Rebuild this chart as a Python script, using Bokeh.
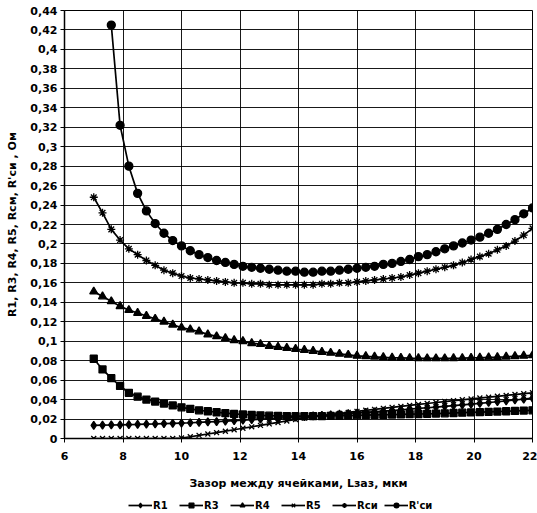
from bokeh.plotting import figure
from bokeh.models import Range1d, FixedTicker, Legend, LegendItem
from bokeh.layouts import column
from bokeh.embed import file_html
from bokeh.resources import INLINE

# ---- data ----
x_vals = [7.0, 7.3, 7.6, 7.9, 8.2, 8.5, 8.8, 9.1, 9.4, 9.7,
          10.0, 10.3, 10.6, 10.9, 11.2, 11.5, 11.8, 12.1, 12.4, 12.7,
          13.0, 13.3, 13.6, 13.9, 14.2, 14.5, 14.8, 15.1, 15.4, 15.7,
          16.0, 16.3, 16.6, 16.9, 17.2, 17.5, 17.8, 18.1, 18.4, 18.7,
          19.0, 19.3, 19.6, 19.9, 20.2, 20.5, 20.8, 21.1, 21.4, 21.7, 22.0]

r1 = [0.0135, 0.0137, 0.0139, 0.0141, 0.0143, 0.0145, 0.0148, 0.0150, 0.0153, 0.0156,
      0.0159, 0.0162, 0.0166, 0.0170, 0.0174, 0.0178, 0.0183, 0.0188, 0.0193, 0.0198,
      0.0203, 0.0208, 0.0214, 0.0220, 0.0226, 0.0232, 0.0238, 0.0244, 0.0250, 0.0256,
      0.0262, 0.0268, 0.0274, 0.0281, 0.0288, 0.0295, 0.0302, 0.0309, 0.0316, 0.0323,
      0.0330, 0.0338, 0.0346, 0.0354, 0.0362, 0.0370, 0.0378, 0.0387, 0.0396, 0.0405, 0.0415]

r3 = [0.082, 0.071, 0.062, 0.054, 0.047, 0.043, 0.040, 0.038, 0.036, 0.034,
      0.032, 0.0305, 0.029, 0.028, 0.027, 0.026, 0.0253, 0.0247, 0.0242, 0.0238,
      0.0235, 0.0233, 0.0231, 0.023, 0.023, 0.023, 0.023, 0.0232, 0.0234, 0.0236,
      0.0238, 0.024, 0.0242, 0.0244, 0.0246, 0.0248, 0.025, 0.0252, 0.0254, 0.0256,
      0.0259, 0.0262, 0.0265, 0.0268, 0.0271, 0.0274, 0.0277, 0.028, 0.0283, 0.0287, 0.029]

r4 = [0.151, 0.146, 0.141, 0.136, 0.132, 0.129, 0.126, 0.123, 0.120, 0.117,
      0.114, 0.112, 0.110, 0.107, 0.105, 0.103, 0.101, 0.100, 0.098, 0.097,
      0.095, 0.094, 0.093, 0.092, 0.091, 0.090, 0.089, 0.088, 0.087, 0.086,
      0.085, 0.0845, 0.084, 0.0835, 0.083, 0.0828, 0.0826, 0.0825, 0.0824, 0.0824,
      0.0824, 0.0825, 0.0826, 0.0828, 0.083, 0.0833, 0.0836, 0.084, 0.0845, 0.085, 0.0855]

r5 = [0.0, 0.0, 0.0, 0.0, 0.0, 0.0, 0.0, 0.0, 0.0, 0.0,
      0.0005, 0.0018, 0.0032, 0.0046, 0.006, 0.0075, 0.009, 0.0105, 0.012, 0.0135,
      0.015, 0.0165, 0.018, 0.0195, 0.021, 0.0222, 0.0234, 0.0246, 0.0257, 0.0268,
      0.0279, 0.029, 0.030, 0.031, 0.032, 0.033, 0.034, 0.035, 0.036, 0.037,
      0.038, 0.0389, 0.0398, 0.0407, 0.0416, 0.0425, 0.0434, 0.0443, 0.0452, 0.0461, 0.047]

r_si = [0.248, 0.232, 0.215, 0.204, 0.195, 0.189, 0.183, 0.178, 0.173, 0.170,
        0.167, 0.165, 0.164, 0.163, 0.162, 0.161, 0.160, 0.160, 0.159, 0.159,
        0.158, 0.158, 0.158, 0.158, 0.158, 0.158, 0.159, 0.159, 0.160, 0.160,
        0.161, 0.162, 0.163, 0.164, 0.165, 0.166, 0.168, 0.170, 0.172, 0.174,
        0.176, 0.178, 0.181, 0.184, 0.187, 0.190, 0.194, 0.198, 0.203, 0.209, 0.216]

x_rsi2 = x_vals[2:]
r_si2 = [0.425, 0.322, 0.280, 0.252, 0.234, 0.221, 0.211, 0.2035,
         0.198, 0.193, 0.189, 0.186, 0.183, 0.181, 0.179, 0.177, 0.176, 0.175,
         0.174, 0.173, 0.172, 0.172, 0.171, 0.171, 0.172, 0.172, 0.173, 0.174,
         0.175, 0.176, 0.177, 0.179, 0.180, 0.182, 0.184, 0.187, 0.189, 0.192,
         0.195, 0.198, 0.201, 0.204, 0.207, 0.211, 0.215, 0.220, 0.225, 0.231, 0.237]

y_ticks = [0, 0.02, 0.04, 0.06, 0.08, 0.1, 0.12, 0.14, 0.16, 0.18, 0.2, 0.22,
           0.24, 0.26, 0.28, 0.3, 0.32, 0.34, 0.36, 0.38, 0.4, 0.42, 0.44]
y_tick_labels = ["0", "0,02", "0,04", "0,06", "0,08", "0,1", "0,12", "0,14", "0,16",
                 "0,18", "0,2", "0,22", "0,24", "0,26", "0,28", "0,3", "0,32", "0,34",
                 "0,36", "0,38", "0,4", "0,42", "0,44"]
x_ticks = [6, 8, 10, 12, 14, 16, 18, 20, 22]

series_names = ["R1", "R3", "R4", "R5", "Rси", "R'си"]
series_x = [x_vals, x_vals, x_vals, x_vals, x_vals, x_rsi2]
series_y = [r1, r3, r4, r5, r_si, r_si2]
markers = ["diamond", "square", "triangle", "x", "asterisk", "circle"]
msizes = [8, 7, 8, 7, 8, 8]

FONT = "DejaVu Sans"

p = figure(width=537, height=493, output_backend="svg", toolbar_location=None,
           x_range=Range1d(6, 22), y_range=Range1d(0, 0.44),
           min_border_left=64, min_border_right=5, min_border_top=10,
           min_border_bottom=55)
p.background_fill_color = "white"
p.border_fill_color = "white"
p.outline_line_color = "black"
p.outline_line_width = 1

p.yaxis.ticker = FixedTicker(ticks=y_ticks)
p.yaxis.major_label_overrides = {t: l for t, l in zip(y_ticks, y_tick_labels)}
p.xaxis.ticker = FixedTicker(ticks=x_ticks)
p.xaxis.major_label_overrides = {t: str(t) for t in x_ticks}

for ax in (p.xaxis[0], p.yaxis[0]):
    ax.major_label_text_font = FONT
    ax.major_label_text_font_style = "bold"
    ax.major_label_text_font_size = "11px"
    ax.major_label_text_color = "black"
    ax.axis_label_text_font = FONT
    ax.axis_label_text_font_style = "bold"
    ax.axis_label_text_font_size = "11px"
    ax.axis_label_text_color = "black"
    ax.axis_line_color = "black"
    ax.axis_line_width = 1.5
    ax.major_tick_line_color = "black"
    ax.minor_tick_line_color = None
    ax.major_tick_in = 0
    ax.major_tick_out = 4

p.xaxis.axis_label = "Зазор между ячейками, Lзаз, мкм"
p.yaxis.axis_label = "R1, R3, R4, R5, Rсм, R'си , Ом"
p.xaxis.major_label_standoff = 9
p.xaxis.axis_label_standoff = 14
p.yaxis.major_label_standoff = 3
p.yaxis.axis_label_standoff = 8

p.xgrid.ticker = FixedTicker(ticks=x_ticks)
p.ygrid.ticker = FixedTicker(ticks=y_ticks)
p.grid.grid_line_color = "black"
p.grid.grid_line_width = 1
p.grid.grid_line_alpha = 0.9

# legend strip below the chart
pl = figure(width=537, height=20, output_backend="svg", toolbar_location=None,
            x_range=Range1d(100, 101), y_range=Range1d(100, 101),
            min_border=0)
pl.axis.visible = False
pl.grid.visible = False
pl.outline_line_color = None
pl.background_fill_color = "white"
pl.border_fill_color = "white"

items = []
for name, xs, ys, mk, ms in zip(series_names, series_x, series_y, markers, msizes):
    p.line(xs, ys, line_color="black", line_width=1.7)
    p.scatter(xs, ys, marker=mk, size=ms, line_color="black",
              fill_color="black", line_width=1.3)
    ln = pl.line(xs, ys, line_color="black", line_width=1.7)
    sc = pl.scatter(xs, ys, marker=mk, size=ms - 1, line_color="black",
                    fill_color="black", line_width=1.3)
    items.append(LegendItem(label=name, renderers=[ln, sc]))

legend = Legend(items=items, orientation="horizontal", location=(64, 2),
                label_text_font=FONT, label_text_font_style="bold",
                label_text_font_size="10px", label_text_color="black",
                glyph_width=24, glyph_height=12, label_standoff=1, spacing=6,
                padding=2, margin=0, border_line_color=None,
                background_fill_alpha=0, label_height=12)
pl.add_layout(legend, "center")

open("out.html", "w").write(file_html(column(p, pl, spacing=0), INLINE))
